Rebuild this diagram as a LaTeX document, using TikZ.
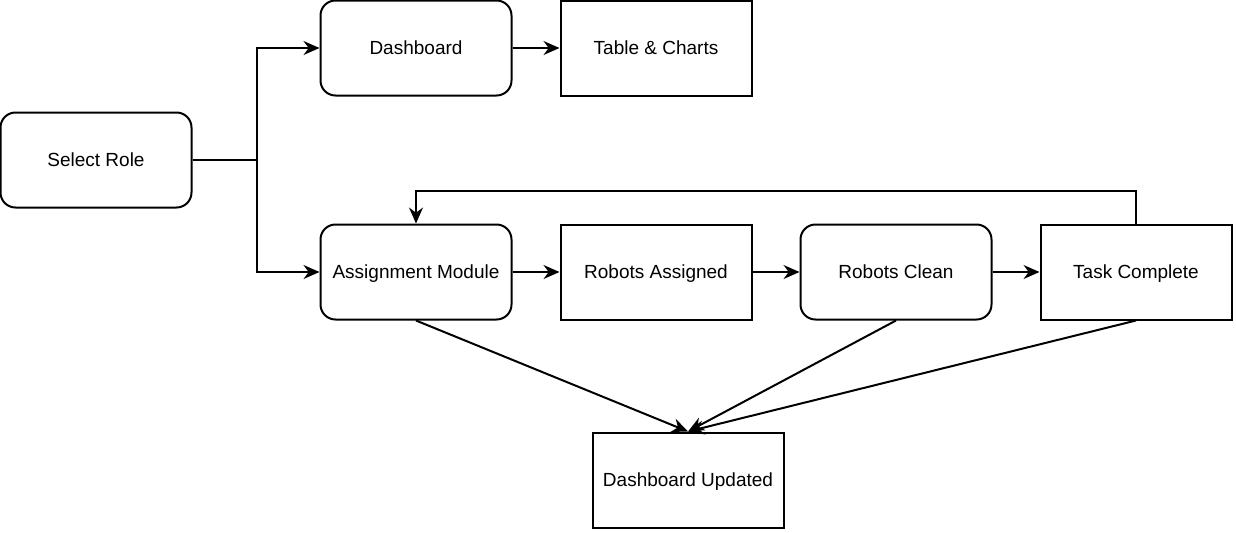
\documentclass[tikz,border=0pt]{standalone}
\usepackage{fontspec}
\setmainfont{Liberation Sans}
\usetikzlibrary{arrows.meta}

\begin{document}
\begin{tikzpicture}[x=0.5pt, y=-0.5pt, node distance={120pt}, line width=1pt, >={Stealth[length=8pt,width=7pt]},
    main/.style = {draw, rectangle, minimum width=95.5pt, minimum height=47.5pt, inner sep=0pt, text height=6.9pt, text depth=0pt, font=\fontsize{9.5}{11}\selectfont},
    soft/.style = {main, rounded corners=7.5pt}]
        \useasboundingbox (0,0) rectangle (1236,532);
        \node[soft] (role) at (96,160) {Select Role};
        \node[soft] (dash) at (416,48) {Dashboard};
        \node[main] (charts) [right of=dash] {Table \& Charts};
        \node[soft] (assign) at (416,272) {Assignment Module};
        \node[main] (assigned) [right of=assign] {Robots Assigned};
        \node[soft] (clean) [right of=assigned] {Robots Clean};
        \node[main] (task) [right of=clean] {Task Complete};
        \node[main] (updated) at (688,480) {Dashboard Updated};
        \coordinate (fork) at (257,160);

        \draw (role) -- (fork);
        \draw[->] (fork) |- (dash);
        \draw[->] (fork) |- (assign);
        \draw[->] (dash) -- (charts);
        \draw[->] (assign) -- (assigned);
        \draw[->] (assigned) -- (clean);
        \draw[->] (clean) -- (task);
        \draw[->] (task.north) -- ++(0,-33) -| (assign.north);
        \draw[->] (assign.south) -- (updated.north);
        \draw[->] (clean.south) -- (updated.north);
        \draw[->] (task.south) -- (updated.north);
    \end{tikzpicture}
\end{document}
